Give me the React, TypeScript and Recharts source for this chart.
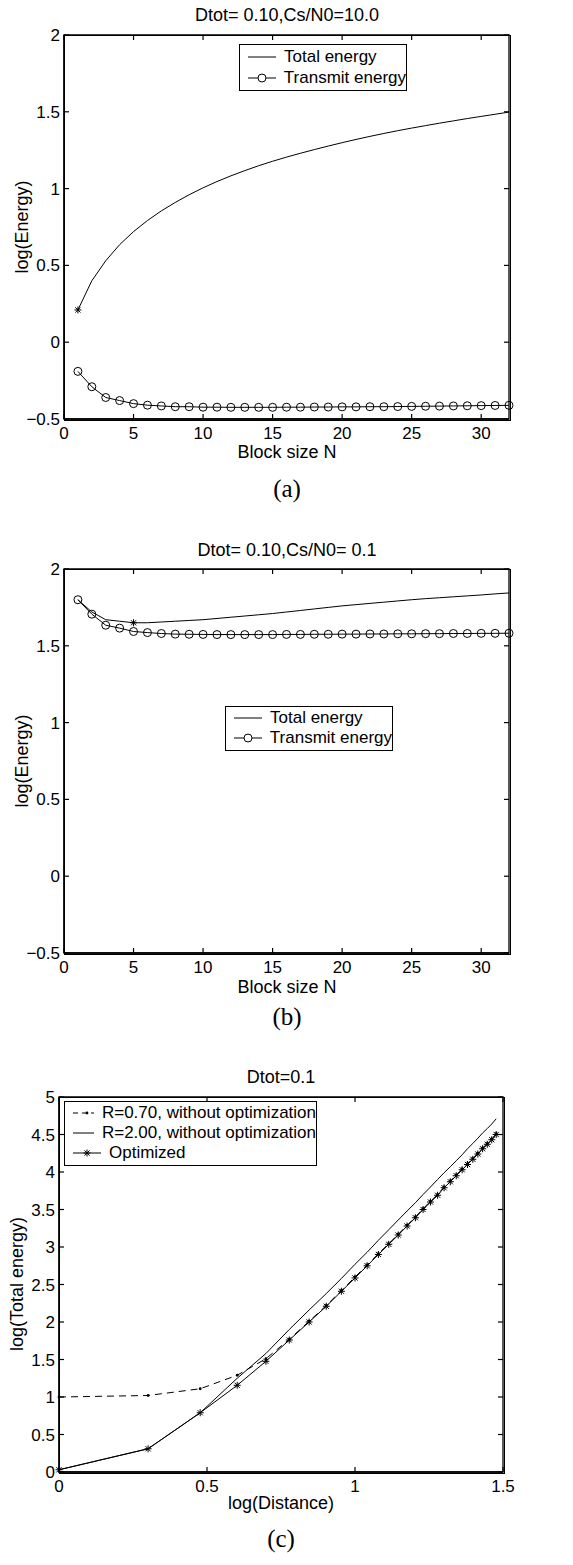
import React from 'react'
import { LineChart, Line, XAxis, YAxis, Legend, ReferenceArea } from 'recharts'

const FONT = '"Liberation Sans", Arial, Helvetica, sans-serif'
const SERIF = '"Liberation Serif", "DejaVu Serif", serif'

// panels (a) and (b): block size N
const blockSize = [1, 2, 3, 4, 5, 6, 7, 8, 9, 10, 11, 12, 13, 14, 15, 16, 17, 18, 19, 20, 21, 22, 23, 24, 25, 26, 27, 28, 29, 30, 31, 32]
const totalA = [0.21, 0.40, 0.53, 0.635, 0.72, 0.792, 0.855, 0.91, 0.96, 1.005, 1.046, 1.083, 1.117, 1.149, 1.178, 1.205, 1.23, 1.254, 1.277, 1.299, 1.32, 1.34, 1.359, 1.377, 1.394, 1.41, 1.426, 1.441, 1.456, 1.47, 1.484, 1.498]
const transmitA = [-0.19, -0.29, -0.36, -0.38, -0.40, -0.41, -0.415, -0.42, -0.42, -0.423, -0.423, -0.424, -0.424, -0.424, -0.424, -0.423, -0.423, -0.422, -0.422, -0.421, -0.421, -0.42, -0.42, -0.419, -0.418, -0.417, -0.416, -0.415, -0.414, -0.413, -0.412, -0.411]
const totalB = [1.80, 1.72, 1.67, 1.66, 1.65, 1.65, 1.655, 1.66, 1.665, 1.67, 1.678, 1.686, 1.694, 1.702, 1.71, 1.72, 1.73, 1.74, 1.75, 1.76, 1.768, 1.776, 1.784, 1.792, 1.80, 1.807, 1.813, 1.819, 1.825, 1.831, 1.838, 1.844]
const transmitB = [1.80, 1.706, 1.634, 1.615, 1.593, 1.586, 1.58, 1.576, 1.575, 1.574, 1.573, 1.573, 1.573, 1.573, 1.573, 1.574, 1.574, 1.575, 1.575, 1.576, 1.576, 1.577, 1.577, 1.578, 1.578, 1.579, 1.579, 1.58, 1.58, 1.581, 1.581, 1.582]
const optimumNA = 1 // star on the total energy curve
const optimumNB = 5
const blockTicks = [0, 5, 10, 15, 20, 25, 30]
const energyTicks = [-0.5, 0, 0.5, 1, 1.5, 2]

// panel (c): log(distance)
const logDistance = [0, 0.301, 0.477, 0.602, 0.699, 0.778, 0.845, 0.903, 0.954, 1.0, 1.041, 1.079, 1.114, 1.146, 1.176, 1.204, 1.23, 1.255, 1.279, 1.301, 1.322, 1.342, 1.362, 1.38, 1.398, 1.415, 1.431, 1.447, 1.462, 1.477]
const r070 = [1.0, 1.02, 1.11, 1.29, 1.51, 1.77, 2.01, 2.22, 2.42, 2.6, 2.76, 2.91, 3.045, 3.17, 3.29, 3.4, 3.51, 3.61, 3.7, 3.8, 3.88, 3.96, 4.04, 4.11, 4.18, 4.25, 4.32, 4.38, 4.44, 4.51]
const r200 = [0.03, 0.31, 0.79, 1.25, 1.58, 1.9, 2.16, 2.38, 2.58, 2.77, 2.93, 3.09, 3.23, 3.36, 3.48, 3.59, 3.7, 3.8, 3.9, 3.99, 4.07, 4.15, 4.23, 4.31, 4.38, 4.45, 4.52, 4.58, 4.64, 4.71]
const optimized = [0.03, 0.31, 0.79, 1.156, 1.476, 1.76, 2.0, 2.21, 2.41, 2.587, 2.75, 2.9, 3.036, 3.16, 3.28, 3.39, 3.5, 3.6, 3.69, 3.79, 3.87, 3.95, 4.03, 4.1, 4.17, 4.24, 4.31, 4.37, 4.43, 4.5]
const distTicks = [0, 0.5, 1, 1.5]
const totalTicks = [0, 0.5, 1, 1.5, 2, 2.5, 3, 3.5, 4, 4.5, 5]

const toRows = (xs: number[], ys: number[]) => xs.map((n, i) => ({ n, e: ys[i] }))

const fmt = (v: number) => String(v).replace('-', '\u2212')
const TICK_FONT = 17
const INK = '#000'

const starAt = (cx: number, cy: number, key: any) => (
  <g key={key} stroke={INK} strokeWidth={1}>
    <line x1={cx - 3.5} y1={cy} x2={cx + 3.5} y2={cy} />
    <line x1={cx} y1={cy - 3.5} x2={cx} y2={cy + 3.5} />
    <line x1={cx - 2.6} y1={cy - 2.6} x2={cx + 2.6} y2={cy + 2.6} />
    <line x1={cx - 2.6} y1={cy + 2.6} x2={cx + 2.6} y2={cy - 2.6} />
  </g>
)

const star = (p: any) => (p.cx == null ? <g key={p.index} /> : starAt(p.cx, p.cy, p.index))

// star only at the optimum block size
const starOnly = (n: number) => (p: any) =>
  p.cx == null || p.payload?.n !== n ? <g key={p.index} /> : starAt(p.cx, p.cy, p.index)

const smallDot = (p: any) => (p.cx == null ? <g key={p.index} /> : <circle key={p.index} cx={p.cx} cy={p.cy} r={1.4} fill={INK} />)

// matlab style ticks: inward, on both sides of the box
const bottomTick = (top: number, bottom: number) => (p: any) => (
  <g key={p.index}>
    <line x1={p.x} y1={bottom} x2={p.x} y2={bottom - 5} stroke={INK} strokeWidth={1.2} />
    <line x1={p.x} y1={top} x2={p.x} y2={top + 5} stroke={INK} strokeWidth={1.2} />
    <text x={p.x} y={bottom + 8} dy="0.71em" textAnchor="middle" fill="#000" fontSize={TICK_FONT} fontFamily={FONT}>
      {fmt(p.payload.value)}
    </text>
  </g>
)

const leftTick = (left: number, right: number) => (p: any) => (
  <g key={p.index}>
    <line x1={left} y1={p.y} x2={left + 5} y2={p.y} stroke={INK} strokeWidth={1.2} />
    <line x1={right} y1={p.y} x2={right - 5} y2={p.y} stroke={INK} strokeWidth={1.2} />
    <text x={left - 4} y={p.y} dy="0.355em" textAnchor="end" fill="#000" fontSize={TICK_FONT} fontFamily={FONT}>
      {fmt(p.payload.value)}
    </text>
  </g>
)

type Item = { label: string; kind: 'line' | 'circle' | 'dash' | 'star' }

const Sample = ({ kind }: { kind: Item['kind'] }) => (
  <svg width={28} height={12} style={{ display: 'block' }}>
    <line x1={0} y1={6} x2={28} y2={6} stroke={INK} strokeWidth={1} strokeDasharray={kind === 'dash' ? '5 4' : undefined} />
    {kind === 'circle' && <circle cx={14} cy={6} r={4} fill="#fff" stroke={INK} />}
    {kind === 'dash' && <circle cx={14} cy={6} r={1.4} fill={INK} />}
    {kind === 'star' && starAt(14, 6, 's')}
  </svg>
)

const legendContent = (items: Item[], rowH: number) => () => (
  <div style={{ border: '1px solid #000', background: '#fff', padding: '1px 0 2px 0', fontFamily: FONT, fontSize: 17 }}>
    {items.map(it => (
      <div key={it.label} style={{ display: 'flex', alignItems: 'center', height: rowH, paddingLeft: 8 }}>
        <Sample kind={it.kind} />
        <span style={{ marginLeft: 8, whiteSpace: 'nowrap' }}>{it.label}</span>
      </div>
    ))}
  </div>
)

const energyItems: Item[] = [{ label: 'Total energy', kind: 'line' }, { label: 'Transmit energy', kind: 'circle' }]
const distItems: Item[] = [
  { label: 'R=0.70, without optimization', kind: 'dash' },
  { label: 'R=2.00, without optimization', kind: 'line' },
  { label: 'Optimized', kind: 'star' },
]

const Caption = ({ x, y, children, size = 18, rotate = false, family = FONT }: any) => (
  <div style={{
    position: 'absolute', left: x, top: y, transform: `translate(-50%, -50%)${rotate ? ' rotate(-90deg)' : ''}`,
    fontFamily: family, fontSize: size, color: '#000', whiteSpace: 'nowrap', lineHeight: 1,
  }}>{children}</div>
)

// plain box outline around a plot area (same place as the chart margins)
const Box = ({ left, top, width, height }: any) => (
  <div style={{
    position: 'absolute', left: left - 0.5, top: top - 0.5, width, height,
    border: '1px solid #000', pointerEvents: 'none',
  }} />
)

const EnergyPanel = ({ top, total, transmit, optimumN, legendLeft, legendTop, rowH }: any) => (
  <div style={{ position: 'absolute', left: 0, top }}>
    <LineChart width={573} height={460} margin={{ top: 35, right: 64, bottom: 11, left: 14 }}>
      <XAxis dataKey="n" type="number" domain={[0, 32]} ticks={blockTicks} tickLine={false}
        tick={bottomTick(35, 419)} axisLine={{ stroke: INK, strokeWidth: 1.3 }} height={30} />
      <YAxis type="number" domain={[-0.5, 2]} ticks={energyTicks} tickLine={false}
        tick={leftTick(64, 509)} axisLine={{ stroke: INK, strokeWidth: 1.3 }} width={50} />
      <ReferenceArea x1={0} x2={32} y1={-0.5} y2={2} fill="none" stroke={INK} strokeWidth={1.3} />
      <Line data={toRows(blockSize, total)} dataKey="e" type="linear" stroke={INK} strokeWidth={1}
        dot={starOnly(optimumN)} isAnimationActive={false} />
      <Line data={toRows(blockSize, transmit)} dataKey="e" type="linear" stroke={INK} strokeWidth={1}
        dot={{ r: 4, fill: 'none', stroke: INK, strokeWidth: 1 }} isAnimationActive={false} />
      <Legend layout="horizontal" verticalAlign="middle" align="center"
        wrapperStyle={{ left: legendLeft, top: legendTop, width: 168, height: 'auto' }}
        content={legendContent(energyItems, rowH)} />
    </LineChart>
    <Box left={64} top={35} width={445} height={384} />
  </div>
)

export default function App() {
  return (
    <div style={{ position: 'absolute', left: 0, top: 0, width: 573, height: 1565, background: '#fff' }}>
      <EnergyPanel top={0} total={totalA} transmit={transmitA} optimumN={optimumNA} legendLeft={239} legendTop={44} rowH={21} />
      <Caption x={287} y={15}>Dtot= 0.10,Cs/N0=10.0</Caption>
      <Caption x={287} y={452}>Block size N</Caption>
      <Caption x={22} y={227} rotate>log(Energy)</Caption>
      <Caption x={287} y={488} size={25} family={SERIF}>(a)</Caption>

      <EnergyPanel top={534} total={totalB} transmit={transmitB} optimumN={optimumNB} legendLeft={225} legendTop={172} rowH={20} />
      <Caption x={287} y={550}>Dtot= 0.10,Cs/N0= 0.1</Caption>
      <Caption x={287} y={987}>Block size N</Caption>
      <Caption x={22} y={761} rotate>log(Energy)</Caption>
      <Caption x={287} y={1016} size={25} family={SERIF}>(b)</Caption>

      <div style={{ position: 'absolute', left: 0, top: 1040 }}>
        <LineChart width={573} height={480} margin={{ top: 57, right: 70, bottom: 18, left: 9 }}>
          <XAxis dataKey="n" type="number" domain={[0, 1.5]} ticks={distTicks} tickLine={false}
            tick={bottomTick(57, 432)} axisLine={{ stroke: INK, strokeWidth: 1.3 }} height={30} />
          <YAxis type="number" domain={[0, 5]} ticks={totalTicks} tickLine={false}
            tick={leftTick(59, 503)} axisLine={{ stroke: INK, strokeWidth: 1.3 }} width={50} />
          <ReferenceArea x1={0} x2={1.5} y1={0} y2={5} fill="none" stroke={INK} strokeWidth={1.3} />
          <Line data={toRows(logDistance, r070)} dataKey="e" type="linear" stroke={INK} strokeWidth={1}
            strokeDasharray="7 5" dot={smallDot} isAnimationActive={false} />
          <Line data={toRows(logDistance, r200)} dataKey="e" type="linear" stroke={INK} strokeWidth={1} dot={false} isAnimationActive={false} />
          <Line data={toRows(logDistance, optimized)} dataKey="e" type="linear" stroke={INK} strokeWidth={1} dot={star} isAnimationActive={false} />
          <Legend layout="horizontal" verticalAlign="middle" align="center"
            wrapperStyle={{ left: 64, top: 61, width: 253, height: 'auto' }}
            content={legendContent(distItems, 20)} />
        </LineChart>
        <Box left={59} top={57} width={444} height={375} />
      </div>
      <Caption x={281} y={1077}>Dtot=0.1</Caption>
      <Caption x={281} y={1503}>log(Distance)</Caption>
      <Caption x={17} y={1284} rotate>log(Total energy)</Caption>
      <Caption x={281} y={1538} size={25} family={SERIF}>(c)</Caption>
    </div>
  )
}
